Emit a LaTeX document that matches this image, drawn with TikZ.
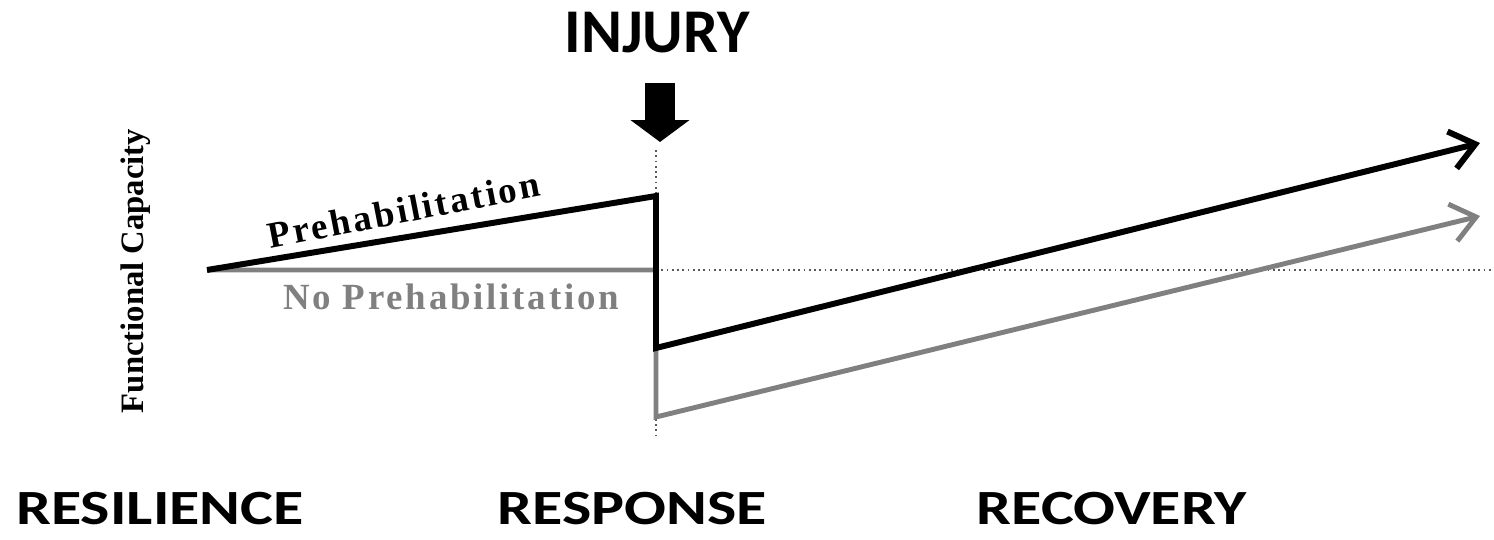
\documentclass[tikz,border=0pt]{standalone}
\usepackage{fontspec}
\usetikzlibrary{arrows.meta}

\newfontfamily\headfont{Carlito}
\newfontfamily\plotfont{Liberation Serif}
\newfontfamily\curvefont[LetterSpace=7.5]{Liberation Serif}

\tikzset{
  phase/.style={font=\headfont\bfseries\fontsize{14}{16}\selectfont, inner sep=0pt},
  curvelabel/.style={font=\curvefont\bfseries\fontsize{10.5}{12}\selectfont, inner sep=0pt},
  guide/.style={densely dotted, gray!70!black, line width=0.5pt},
  prehab/.style={black, line width=1.7pt, line join=miter},
  noprehab/.style={gray, line width=1.4pt, line join=miter}
}

\begin{document}
\begin{tikzpicture}

  \useasboundingbox (0,0) rectangle (14.94,5.39);

  % --- Key points ---
  \coordinate (start) at (2.07,2.69);
  \coordinate (base) at (6.56,2.69);
  \coordinate (peak) at (6.56,3.43);
  \coordinate (dropA) at (6.56,1.91);
  \coordinate (dropB) at (6.56,1.22);
  \coordinate (endA) at (14.80,3.96);
  \coordinate (endB) at (14.80,3.23);
  \coordinate (guideR) at (14.94,2.69);
  \coordinate (guideT) at (6.56,3.89);
  \coordinate (guideB) at (6.56,1.04);

  % --- Dotted guides ---
  \draw[guide] (base) -- (guideR);
  \draw[guide] (guideT) -- (guideB);

  % --- Curves ---
  \draw[noprehab, -{Straight Barb[length=0.24cm, width=0.38cm]}]
    (start) -- (base) -- (dropB) -- (endB);
  \draw[prehab, -{Straight Barb[length=0.24cm, width=0.38cm]}]
    (start) -- (peak) -- (dropA) -- (endA);

  % --- Curve labels ---
  \node[curvelabel, rotate=11] (prehablabel) at (4.04,3.29) {Prehabilitation};
  \node[curvelabel, gray] (noprehablabel) at (4.51,2.42) {No Prehabilitation};

  % --- Axis label ---
  \node[font=\plotfont\bfseries\fontsize{9.3}{11}\selectfont, rotate=90, inner sep=0pt]
    (axis) at (1.36,2.68) {Functional Capacity};

  % --- Injury marker ---
  \node[font=\headfont\bfseries\fontsize{17.7}{20}\selectfont, inner sep=0pt]
    (injury) at (6.57,5.06) {INJURY};
  \coordinate (shaftTop) at (6.60,4.56);
  \coordinate (shaftTip) at (6.60,3.97);
  \draw[line width=0.3cm, -{Triangle[length=0.22cm, width=0.58cm]}] (shaftTop) -- (shaftTip);

  % --- Phases ---
  \node[phase] (resilience) at (1.60,0.30) {\scalebox{1.26}[1]{RESILIENCE}};
  \node[phase] (response) at (6.32,0.30) {\scalebox{1.26}[1]{RESPONSE}};
  \node[phase] (recovery) at (11.12,0.30) {\scalebox{1.26}[1]{RECOVERY}};

\end{tikzpicture}
\end{document}
